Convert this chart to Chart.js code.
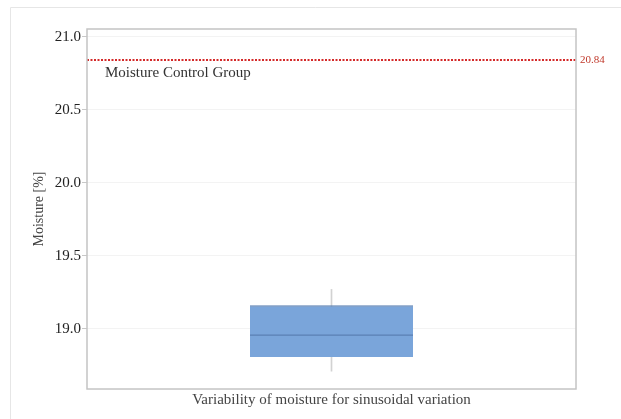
<!DOCTYPE html>
<html>
<head>
<meta charset="utf-8">
<script src="https://cdn.jsdelivr.net/npm/chart.js@4"></script>
<style>
  html, body { margin: 0; padding: 0; background: #fff; }
  #wrap { width: 621px; height: 419px; position: relative; }
</style>
</head>
<body>
<div id="wrap"><canvas id="moistureChart"></canvas></div>
<script>
// data
const categories = [""];
const whiskerRange = [[18.71, 19.27]];     // min .. max
const boxRange = [[18.807, 19.162]];       // Q1 .. Q3
const medianValue = [18.957];
const yTicks = [19.0, 19.5, 20.0, 20.5, 21.0];
const controlValue = 20.84;
const controlLabel = "Moisture Control Group";

const serif = "'Liberation Serif', 'Times New Roman', serif";

// median drawn as a very thin floating bar
const medianRange = medianValue.map(v => [v - 0.004, v + 0.004]);

// light frame round the whole figure
const outerFrame = {
  id: "outerFrame",
  beforeDraw(chart) {
    const ctx = chart.ctx;
    ctx.save();
    ctx.strokeStyle = "#e6e6e6";
    ctx.lineWidth = 1;
    ctx.beginPath();
    ctx.moveTo(10.5, 419);
    ctx.lineTo(10.5, 7.5);
    ctx.lineTo(621, 7.5);
    ctx.stroke();
    ctx.restore();
  }
};

// grey border round the plot area
const plotFrame = {
  id: "plotFrame",
  afterDraw(chart) {
    const a = chart.chartArea;
    const ctx = chart.ctx;
    ctx.save();
    ctx.strokeStyle = "#c4c4c4";
    ctx.lineWidth = 1.5;
    ctx.strokeRect(a.left, a.top, a.right - a.left, a.bottom - a.top);
    ctx.restore();
  }
};

// dotted red reference line for the control group
const controlLine = {
  id: "controlLine",
  afterDatasetsDraw(chart) {
    const a = chart.chartArea;
    const y = chart.scales.y.getPixelForValue(controlValue);
    const ctx = chart.ctx;
    ctx.save();
    ctx.strokeStyle = "#d42a2a";
    ctx.lineWidth = 2;
    ctx.setLineDash([2, 1.5]);
    ctx.beginPath();
    ctx.moveTo(a.left, y);
    ctx.lineTo(a.right, y);
    ctx.stroke();
    ctx.setLineDash([]);

    ctx.fillStyle = "#c0392b";
    ctx.font = "11px " + serif;
    ctx.textAlign = "left";
    ctx.textBaseline = "middle";
    ctx.fillText(controlValue.toFixed(2), a.right + 4, y);

    ctx.fillStyle = "#333";
    ctx.font = "15px " + serif;
    ctx.fillText(controlLabel, a.left + 18, y + 13);
    ctx.restore();
  }
};

new Chart(document.getElementById("moistureChart"), {
  type: "bar",
  data: {
    labels: categories,
    datasets: [
      {
        label: "median",
        data: medianRange,
        backgroundColor: "#5b80b3",
        barPercentage: 1 / 3,
        categoryPercentage: 1,
        grouped: false,
        order: 1
      },
      {
        label: "box",
        data: boxRange,
        backgroundColor: "#7aa5da",
        borderColor: "#5d82b4",
        borderWidth: { top: 1.5, bottom: 0, left: 0, right: 0 },
        borderSkipped: false,
        barPercentage: 1 / 3,
        categoryPercentage: 1,
        grouped: false,
        order: 2
      },
      {
        label: "whisker",
        data: whiskerRange,
        backgroundColor: "#d2d2d2",
        barThickness: 1,
        grouped: false,
        order: 3
      }
    ]
  },
  options: {
    responsive: true,
    maintainAspectRatio: false,
    animation: false,
    layout: { padding: { left: 11, top: 29, right: 45, bottom: 0 } },
    plugins: {
      legend: { display: false },
      tooltip: { enabled: false }
    },
    scales: {
      x: {
        grid: { display: false, drawTicks: false },
        border: { display: false },
        ticks: { display: false },
        title: {
          display: true,
          text: "Variability of moisture for sinusoidal variation",
          color: "#444",
          font: { family: serif, size: 15 },
          padding: { top: 0, bottom: 10 }
        },
        afterFit(scale) { scale.height = 30; }
      },
      y: {
        min: 18.588,
        max: 21.053,
        afterBuildTicks(scale) {
          scale.ticks = yTicks.map(v => ({ value: v }));
        },
        grid: {
          color: "#f3f3f3",
          tickColor: "#c8c8c8",
          tickLength: 5
        },
        border: { display: false },
        ticks: {
          color: "#222",
          padding: 1,
          font: { family: serif, size: 15 },
          callback: v => Number(v).toFixed(1)
        },
        title: {
          display: true,
          text: "Moisture [%]",
          color: "#444",
          font: { family: serif, size: 14 },
          padding: { top: 20, bottom: 0 }
        },
        afterFit(scale) { scale.width = 76; }
      }
    }
  },
  plugins: [outerFrame, plotFrame, controlLine]
});
</script>
</body>
</html>
